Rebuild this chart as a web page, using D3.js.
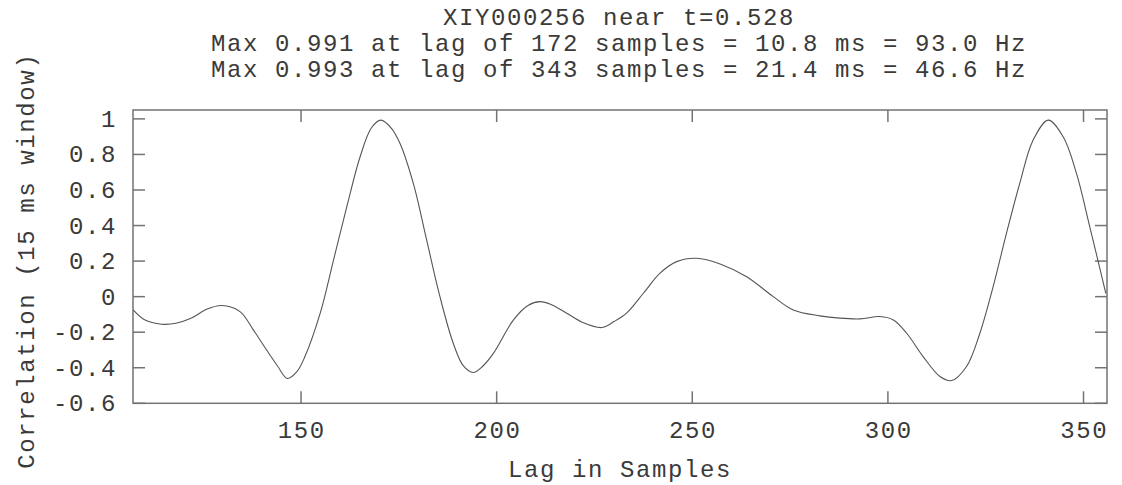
<!DOCTYPE html>
<html><head><meta charset="utf-8">
<script src="https://cdn.jsdelivr.net/npm/d3@7"></script>
<style>body{margin:0;background:#fff}svg text{font-family:"Liberation Mono","Courier New",monospace;fill:#3a3a3a}</style>
</head><body>
<svg id="chart" width="1122" height="485"></svg>
<script>
const titleLines = ["XIY000256 near t=0.528",
  "Max 0.991 at lag of 172 samples = 10.8 ms = 93.0 Hz",
  "Max 0.993 at lag of 343 samples = 21.4 ms = 46.6 Hz"];
const xLabel = "Lag in Samples";
const yLabel = "Correlation (15 ms window)";
const xTicks = [150, 200, 250, 300, 350];
const yTicks = [-0.6, -0.4, -0.2, 0, 0.2, 0.4, 0.6, 0.8, 1];
const lag = [107.1,110,114.4,118,122,126,129.7,134.4,137.8,141.2,144,146.5,149,151,154.9,158.3,161.7,165.1,168,170.4,173,175.3,178.7,182.1,185.5,188.9,191.5,194.0,196.5,199.2,204.3,208,211.1,214,217.9,222,226.8,230,233.2,237.5,241.7,246.0,251.1,257.1,263.9,270.7,275.8,282.6,287.7,292.9,297.9,301.4,304.8,309.0,313.3,316.3,320.1,323.5,326.9,330.3,333.7,337.1,341.0,344.8,348.2,351.6,355.7];
const corr = [-0.075,-0.13,-0.155,-0.15,-0.12,-0.07,-0.05,-0.084,-0.187,-0.30,-0.39,-0.46,-0.42,-0.337,-0.093,0.206,0.506,0.787,0.95,0.993,0.95,0.862,0.637,0.319,0.0,-0.262,-0.39,-0.427,-0.39,-0.318,-0.131,-0.05,-0.028,-0.045,-0.093,-0.145,-0.174,-0.14,-0.093,0.019,0.131,0.197,0.216,0.184,0.112,0.0,-0.075,-0.108,-0.121,-0.125,-0.112,-0.131,-0.206,-0.337,-0.449,-0.472,-0.393,-0.206,0.056,0.356,0.637,0.880,0.993,0.899,0.693,0.393,0.019];

const svg = d3.select("#chart");
const L = 133, R = 1107, T = 110, B = 403.3;
const x = d3.scaleLinear().domain([107.05, 356]).range([L, R]);
const y = d3.scaleLinear().domain([-0.6, 1.05]).range([B, T]);
const frameCol = "#737373", fs = 24, ls = 1.6;

svg.append("defs").append("clipPath").attr("id","clip").append("rect")
  .attr("x", L).attr("y", T).attr("width", R-L).attr("height", B-T);

// ticks (mirrored, inward)
const tl = 12;
const g = svg.append("g").attr("stroke", frameCol).attr("stroke-width", 1.5);
xTicks.forEach(t => {
  g.append("line").attr("x1", x(t)).attr("x2", x(t)).attr("y1", B).attr("y2", B - tl);
  g.append("line").attr("x1", x(t)).attr("x2", x(t)).attr("y1", T).attr("y2", T + tl);
});
yTicks.forEach(t => {
  g.append("line").attr("x1", L).attr("x2", L + tl).attr("y1", y(t)).attr("y2", y(t));
  g.append("line").attr("x1", R).attr("x2", R - tl).attr("y1", y(t)).attr("y2", y(t));
});
svg.append("rect").attr("x", L).attr("y", T).attr("width", R-L).attr("height", B-T)
  .attr("fill","none").attr("stroke", frameCol).attr("stroke-width", 1.5);

// tick labels
const fmt = v => (Math.abs(v) < 1e-9 ? "0" : String(+v.toFixed(1)));
svg.append("g").selectAll("text").data(xTicks).join("text")
  .attr("x", d => x(d) + ls/2).attr("y", 438).attr("text-anchor","middle")
  .attr("font-size", fs).attr("letter-spacing", ls).text(d => d);
svg.append("g").selectAll("text").data(yTicks).join("text")
  .attr("x", 117).attr("y", d => y(d) + 8).attr("text-anchor","end")
  .attr("font-size", fs).attr("letter-spacing", ls).text(d => fmt(d));

// axis titles
svg.append("text").attr("x", (L+R)/2).attr("y", 477).attr("text-anchor","middle")
  .attr("font-size", fs).attr("letter-spacing", ls).text(xLabel);
svg.append("text").attr("transform", `translate(34,${(T+B)/2 + 4}) rotate(-90)`)
  .attr("text-anchor","middle").attr("font-size", fs).attr("letter-spacing", ls).text(yLabel);

// title
svg.append("g").selectAll("text").data(titleLines).join("text")
  .attr("x", 619).attr("y", (d,i) => 25 + i*26).attr("text-anchor","middle")
  .attr("font-size", fs).attr("letter-spacing", ls).text(d => d);

// curve
const pts = lag.map((l,i) => [l, corr[i]]);
svg.append("path").datum(pts).attr("clip-path","url(#clip)")
  .attr("fill","none").attr("stroke","#555").attr("stroke-width",1.1)
  .attr("d", d3.line().x(d => x(d[0])).y(d => y(d[1])).curve(d3.curveCatmullRom.alpha(0.5)));
</script>
</body></html>
